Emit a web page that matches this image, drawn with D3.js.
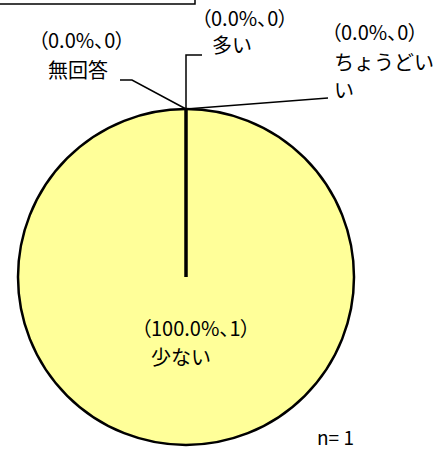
<!DOCTYPE html>
<html>
<head>
<meta charset="utf-8">
<script src="https://cdn.jsdelivr.net/npm/d3@7"></script>
<style>
  body { margin: 0; background: #fff; }
  text { font-family: "Noto Sans CJK JP", sans-serif; font-size: 20px; fill: #000; }
  text.val { font-feature-settings: "palt"; }
</style>
</head>
<body>
<div id="chart"></div>
<script>
// data
var categories = ["少ない", "ちょうどいい", "多い", "無回答"];
var counts = [1, 0, 0, 0];
var percents = ["100.0%", "0.0%", "0.0%", "0.0%"];
var total = 1;

var width = 445, height = 451;
var cx = 186, cy = 277, radius = 168;

var svg = d3.select("#chart")
  .append("svg")
  .attr("width", width)
  .attr("height", height);

// bottom and right edge of the frame cut off at the top
svg.append("path")
  .attr("d", "M-2,4H195V-2")
  .style("fill", "none")
  .style("stroke", "#000")
  .style("stroke-width", 1.5);

var data = categories.map(function(c, i) {
  return {name: c, count: counts[i], pct: percents[i]};
});

var pie = d3.pie().sort(null).value(function(d) { return d.count; });
var arc = d3.arc().innerRadius(0).outerRadius(radius);
var arcs = pie(data);

var g = svg.append("g").attr("transform", "translate(" + cx + "," + cy + ")");

g.selectAll("path")
  .data(arcs.filter(function(d) { return d.data.count > 0; }))
  .enter()
  .append("path")
    .attr("d", arc)
    .style("fill", "#ffff99")
    .style("stroke", "#000")
    .style("stroke-width", 2.5);

// the slice edge running from centre to the top
var a0 = arcs[0].startAngle;
g.append("line")
  .attr("x1", 0).attr("y1", 0)
  .attr("x2", radius * Math.sin(a0))
  .attr("y2", -radius * Math.cos(a0))
  .style("stroke", "#000")
  .style("stroke-width", 3.5);

// label layout: leader bend points and text lines (positions only)
var labelLayout = {
  "少ない": {leader: null, lines: [[141, 336], [151, 365]]},
  "ちょうどいい": {leader: [[328, 98]], lines: [[331, 40], [334, 70], [334, 98]], wrap: 5},
  "多い": {leader: [[186, 55], [202, 55]], lines: [[201, 26], [212, 53]]},
  "無回答": {leader: [[132, 80], [120, 80]], lines: [[38, 48], [48, 78]]}
};

arcs.forEach(function(d) {
  var lay = labelLayout[d.data.name];
  if (lay.leader) {
    var edge = [cx + radius * Math.sin(d.startAngle), cy - radius * Math.cos(d.startAngle)];
    var pts = [edge].concat(lay.leader);
    svg.append("path")
      .attr("d", d3.line()(pts))
      .style("fill", "none")
      .style("stroke", "#000")
      .style("stroke-width", 1.5);
  }
  var texts = ["（" + d.data.pct + "、" + d.data.count + "）"];
  if (lay.wrap) {
    texts.push(d.data.name.slice(0, lay.wrap));
    texts.push(d.data.name.slice(lay.wrap));
  } else {
    texts.push(d.data.name);
  }
  texts.forEach(function(t, i) {
    svg.append("text")
      .attr("class", i === 0 ? "val" : "name")
      .attr("x", lay.lines[i][0])
      .attr("y", lay.lines[i][1])
      .text(t);
  });
});

svg.append("text")
  .attr("x", 317).attr("y", 445)
  .style("font-size", "19px")
  .text("n= " + total);
</script>
</body>
</html>
